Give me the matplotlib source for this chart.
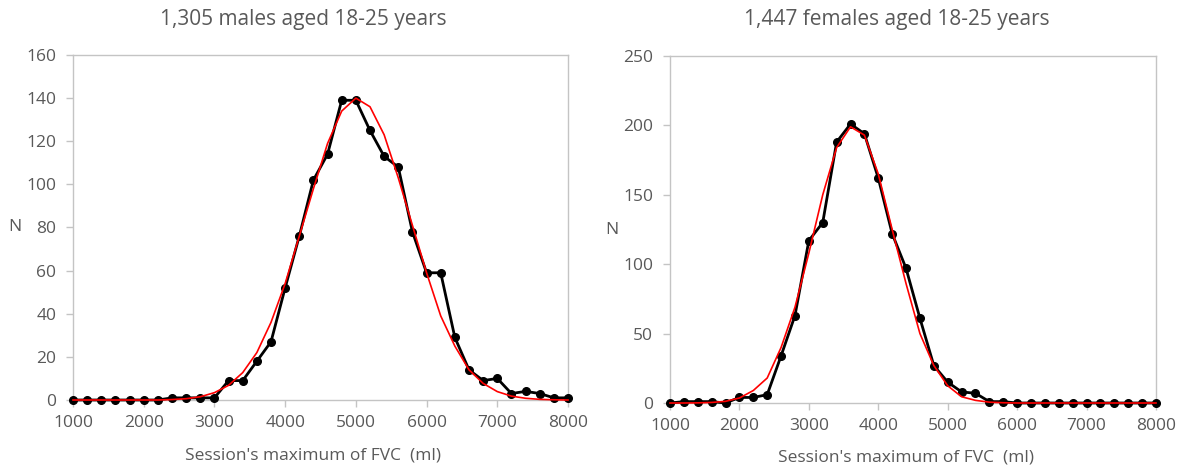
import matplotlib
matplotlib.use("Agg")
import matplotlib.pyplot as plt

plt.rcParams['font.family'] = ['Open Sans', 'DejaVu Sans']

fvc = list(range(1000, 8001, 200))

males_n = [0, 0, 0, 0, 0, 0, 0, 1, 1, 1, 1, 9, 9, 18, 27, 52, 76, 102, 114, 139,
           139, 125, 113, 108, 78, 59, 59, 29, 14, 9, 10, 3, 4, 3, 1, 1]
males_fit = [0, 0, 0, 0, 0, 0, 0, 0.2, 0.6, 1.5, 3.4, 6.8, 12.7, 22, 36, 54, 76, 98, 119, 134,
             140, 136, 123, 103, 81, 59, 39, 25, 14, 7.7, 3.9, 1.8, 0.8, 0.3, 0.1, 0]

females_n = [0, 1, 1, 1, 0, 4, 4, 6, 34, 63, 117, 130, 188, 201, 194, 162, 122, 97, 61, 27,
             15, 8, 7, 1, 1, 0, 0, 0, 0, 0, 0, 0, 0, 0, 0, 0]
females_fit = [0, 0, 0.1, 0.4, 1.2, 3.6, 9, 18, 40, 69, 108, 150, 184, 199, 193, 165, 125, 86, 50, 27,
               12.4, 4.5, 1.9, 0.6, 0.2, 0, 0, 0, 0, 0, 0, 0, 0, 0, 0, 0]

titles = ["1,305 males aged 18-25 years", "1,447 females aged 18-25 years"]
xlabel = "Session's maximum of FVC  (ml)"
ylabel = "N"
xticks = [1000, 2000, 3000, 4000, 5000, 6000, 7000, 8000]
yticks_m = [0, 20, 40, 60, 80, 100, 120, 140, 160]
yticks_f = [0, 50, 100, 150, 200, 250]

TXT = '#595959'
GRID = '#c4c4c4'
W, H = 1182, 468

fig = plt.figure(figsize=(W / 100, H / 100), dpi=100)
ax1 = fig.add_axes([73 / W, 1 - 400 / H, (568 - 73) / W, (400 - 55) / H])
ax2 = fig.add_axes([670 / W, 1 - 403 / H, (1156 - 670) / W, (403 - 56) / H])

panels = [
    (ax1, males_n, males_fit, titles[0], yticks_m, (303, 20), (313, 455), (15, 227)),
    (ax2, females_n, females_fit, titles[1], yticks_f, (897, 20), (906, 458), (612, 230)),
]

for ax, n, fit, title, yt, tpos, xlpos, ylpos in panels:
    ax.plot(fvc, n, color='black', lw=2.0, marker='o', ms=5.5, zorder=3, clip_on=False)
    ax.plot(fvc, fit, color='#ff0000', lw=1.2, zorder=4, clip_on=False)
    ax.set_xlim(1000, 8000)
    ax.set_ylim(yt[0], yt[-1])
    ax.set_xticks(xticks)
    ax.set_yticks(yt)
    for s in ax.spines.values():
        s.set_color(GRID)
        s.set_linewidth(1.0)
    ax.tick_params(axis='both', colors=GRID, labelcolor=TXT, labelsize=12.5, length=5, width=1)
    ax.tick_params(axis='x', pad=6)
    ax.tick_params(axis='y', pad=7)
    fig.text(tpos[0] / W, 1 - tpos[1] / H, title, color=TXT, fontsize=15,
             ha='center', va='center')
    fig.text(xlpos[0] / W, 1 - xlpos[1] / H, xlabel, color=TXT, fontsize=12.5,
             ha='center', va='center')
    fig.text(ylpos[0] / W, 1 - ylpos[1] / H, ylabel, color=TXT, fontsize=12.5,
             ha='center', va='center')

fig.savefig("out.png", dpi=100)
